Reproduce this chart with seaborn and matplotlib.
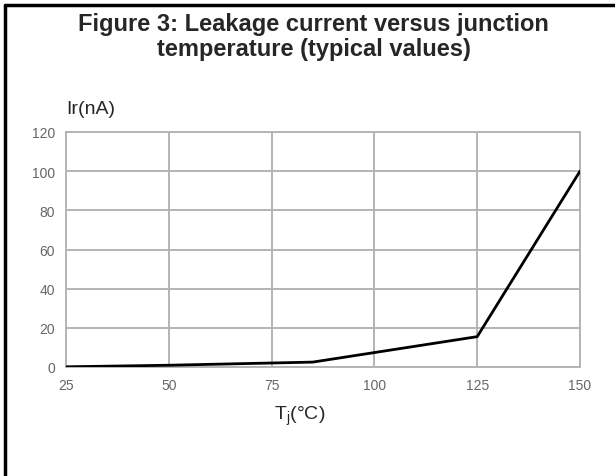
import matplotlib
matplotlib.use("Agg")
import matplotlib.pyplot as plt
import seaborn as sns
import pandas as pd
from matplotlib.lines import Line2D

# values
temps = [25, 50, 85, 125, 150]
leakage = [0.1, 0.9, 2.5, 15.5, 100]
x_ticks = [25, 50, 75, 100, 125, 150]
y_ticks = [0, 20, 40, 60, 80, 100, 120]

sns.set_style("white")
plt.rcParams['font.family'] = ['Liberation Sans', 'DejaVu Sans']

df = pd.DataFrame({"Tj": temps, "Ir": leakage})

fig = plt.figure(figsize=(6.15, 4.77), dpi=100)
ax = fig.add_axes([66 / 615, 1 - 368 / 477, 514 / 615, 235 / 477])

sns.lineplot(data=df, x="Tj", y="Ir", color="black", linewidth=2, ax=ax, zorder=5)

ax.set_xlim(25, 150)
ax.set_ylim(0, 120)
ax.set_xticks(x_ticks)
ax.set_yticks(y_ticks)
ax.grid(True, color="#b4b4b4", linewidth=1.4)
for s in ax.spines.values():
    s.set_color("#b4b4b4")
    s.set_linewidth(1.4)
ax.tick_params(length=0, labelsize=10, colors="#666666", pad=8)
ax.set_xlabel("")
ax.set_ylabel("")

fig.text(0.51, 1 - 37 / 477, "Figure 3: Leakage current versus junction\ntemperature (typical values)",
         ha="center", va="center", fontsize=17, fontweight="bold", linespacing=1.15)
fig.text(66 / 615, 1 - 109 / 477, "Ir(nA)", ha="left", va="center", fontsize=14)
fig.text(300 / 615, 1 - 416 / 477, "T$_\\mathregular{j}$(°C)", ha="center", va="center", fontsize=14)

# frame: top and left edges only
fig.add_artist(Line2D([5 / 615, 1], [1 - 6 / 477, 1 - 6 / 477], color="black", linewidth=2.5,
                      transform=fig.transFigure))
fig.add_artist(Line2D([5 / 615, 5 / 615], [0, 1 - 6 / 477], color="black", linewidth=2.5,
                      transform=fig.transFigure))

fig.savefig("out.png", dpi=100)
